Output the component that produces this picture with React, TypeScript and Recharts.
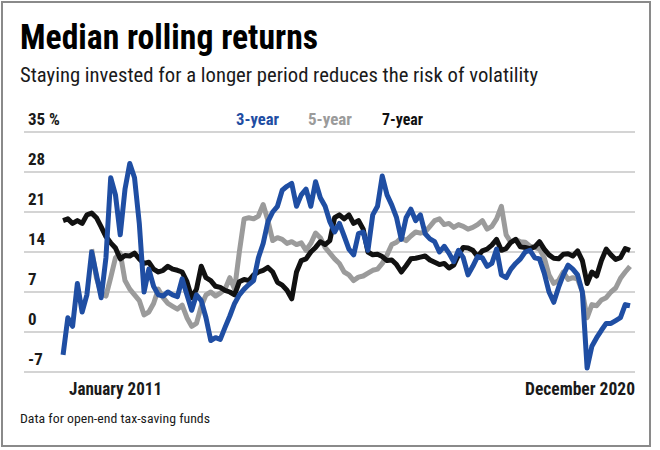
import React from "react";
import { LineChart, Line, XAxis, YAxis, CartesianGrid } from "recharts";

// monthly median rolling returns, Jan 2011 .. Dec 2020 (120 months)
const threeYear = [
  -4, 2.5, 1, 8.5, 3.5, 6.5, 14, 10, 6, 13,
  27, 24, 17, 25, 29.5, 27, 19, 7, 11, 8,
  6.5, 6.3, 7, 6.5, 6.2, 9.3, 6.5, 3.8, 6.5, 5.5,
  2.5, -1.5, -1, -1.3, 0.8, 2.8, 5, 6.5, 7.5, 8.3,
  9, 13, 15.5, 19.3, 21, 22, 24.8, 25.5, 26, 22,
  24, 25, 22, 26.3, 23.5, 22, 19.3, 17.5, 19, 16.8,
  14.5, 13.5, 17.2, 17.5, 14.3, 20.5, 22, 27.3, 24, 22.2,
  20, 16.2, 20, 21.5, 19.5, 20.5, 17.2, 16.3, 15.8, 14,
  15, 13.8, 12.3, 14.3, 13, 10, 11.5, 13.2, 13, 11.5,
  12, 14.5, 10, 9.5, 11, 12, 12.8, 14, 14.3, 13,
  12.8, 10.3, 7, 5.2, 7.8, 10, 11.7, 11, 10, 7,
  -6.3, -2.5, -1, 0.3, 1.5, 1.5, 2, 2.5, 4.8, 4.6,
];

const fiveYear = [
  null, null, null, null, null, null, 14.5, 9.5, 6.8, 6.3,
  9.5, 13, 13.8, 9, 7.5, 6.5, 5.5, 3, 3.5, 5,
  7.5, 6, 5, 4.5, 4, 4.7, 2.5, 1, 1.5, 4.5,
  6.5, 7, 6.3, 6.8, 7.5, 9.5, 7.5, 14, 19.8, 20,
  19.8, 20.3, 22.3, 19.5, 16, 16.5, 16.2, 15.5, 15.8, 15.3,
  15.6, 14.3, 15.5, 17.3, 16.5, 14.8, 13.8, 12.8, 12, 10.5,
  10, 9, 9.6, 9.8, 10.3, 10.8, 11, 12, 13.5, 15.3,
  15.7, 16.5, 16, 16.8, 17.5, 17.3, 17.5, 18.5, 19.5, 19.8,
  18.8, 19, 18.3, 18.8, 18.5, 18, 18.3, 18.8, 19.5, 18,
  18.5, 19.8, 22, 17, 15.7, 16.2, 15.8, 15.7, 15, 14.8,
  14.5, 13, 10, 8.5, 9, 10.5, 9.2, 9.5, 9.3, 7,
  2.5, 4.8, 4.6, 5.6, 6, 7, 7.7, 9.4, 10.5, 11.5,
];

const sevenYear = [
  19.5, 19.8, 19, 19.5, 19, 20.5, 20.8, 20, 18.4, 16.7,
  15.6, 14.7, 12.8, 13.4, 13.3, 13.8, 12.8, 12, 12.2, 11,
  10.5, 10.8, 11.5, 11, 10.8, 10.5, 8.8, 6, 7.5, 11.5,
  9.5, 9, 8, 7.8, 7.3, 7, 6.5, 8.8, 9.2, 9,
  10, 10.5, 10.8, 11.3, 10.5, 8.7, 8.2, 7.3, 5.8, 10.5,
  12.5, 12.8, 14, 14.8, 15.8, 15.3, 16, 20, 20.5, 19.8,
  20.5, 19, 19.5, 18, 14, 13.5, 13.6, 13.2, 12.5, 12.6,
  11.8, 10.5, 11.6, 12.8, 12.9, 13.1, 13.3, 12.6, 12.2, 11.8,
  12, 11.2, 11.7, 13.5, 14.8, 14.7, 14.3, 13.2, 14.2, 14.5,
  15.2, 16.2, 14.3, 14.6, 15.7, 16.2, 14.9, 14.8, 14.6, 14.9,
  15.8, 14.5, 13.5, 12.9, 12.8, 13.6, 13.7, 13.3, 14.2, 12.5,
  8.5, 10.5, 9.8, 12.5, 14.5, 13.5, 12.7, 13, 14.6, 14.3,
];

const yTicks = [-7, 0, 7, 14, 21, 28, 35];
const xTicks = [0, 119];
const xTickLabels = ["January 2011", "December 2020"];

const series = [
  { key: "fiveYear", name: "5-year", color: "#9b9b9b", values: fiveYear },
  { key: "sevenYear", name: "7-year", color: "#111111", values: sevenYear },
  { key: "threeYear", name: "3-year", color: "#1f4ea3", values: threeYear },
];
const legendOrder = ["threeYear", "fiveYear", "sevenYear"];

const data = threeYear.map((_, i) => ({
  t: i,
  threeYear: threeYear[i],
  fiveYear: fiveYear[i],
  sevenYear: sevenYear[i],
}));

const FONT = "'Liberation Sans Narrow', 'Arial Narrow', 'Roboto Condensed', 'DejaVu Sans Condensed', sans-serif";
const PLOT_LEFT = 24;

const YTick = ({ y, payload }: any) => (
  <text x={PLOT_LEFT + 4} y={y - 7} fontFamily={FONT} fontSize={17} fontWeight={700} fill="#1a1a1a">
    {payload.value === 35 ? "35 %" : payload.value}
  </text>
);

const XTick = ({ x, payload }: any) => {
  const i = xTicks.indexOf(payload.value);
  const first = i === 0;
  return (
    <text
      x={first ? x + 6 : x + 5}
      y={395}
      textAnchor={first ? "start" : "end"}
      fontFamily={FONT}
      fontSize={18}
      fontWeight={700}
      fill="#1a1a1a"
      textLength={first ? 93 : 110}
      lengthAdjust="spacingAndGlyphs"
    >
      {xTickLabels[i]}
    </text>
  );
};

const legendX = [236, 308, 382];
const legendW = [43, 44, 41];

export default function App() {
  return (
    <div style={{ position: "absolute", left: 0, top: 0, width: 660, height: 450, background: "#fff" }}>
      <div
        style={{
          position: "absolute",
          left: 1,
          top: 1,
          width: 650,
          height: 446,
          border: "2px solid #8a8a8a",
          boxSizing: "border-box",
        }}
      />
      <svg width={660} height={450} style={{ position: "absolute", left: 0, top: 0 }}>
        <text x={20} y={49} fontFamily={FONT} fontSize={35} fontWeight={700} fill="#000" textLength={298} lengthAdjust="spacingAndGlyphs">
          Median rolling returns
        </text>
        <text x={20} y={82} fontFamily={FONT} fontSize={20} fill="#1a1a1a" textLength={518} lengthAdjust="spacingAndGlyphs">
          Staying invested for a longer period reduces the risk of volatility
        </text>
        {legendOrder.map((k, i) => {
          const s = series.find((d) => d.key === k)!;
          return (
            <text key={k} x={legendX[i]} y={125} fontFamily={FONT} fontSize={17} fontWeight={700} fill={s.color} textLength={legendW[i]} lengthAdjust="spacingAndGlyphs">
              {s.name}
            </text>
          );
        })}
        <text x={20} y={423} fontFamily={FONT} fontSize={13} fill="#1a1a1a" textLength={190} lengthAdjust="spacingAndGlyphs">
          Data for open-end tax-saving funds
        </text>
      </svg>
      <div style={{ position: "absolute", left: 0, top: 0 }}>
        <LineChart width={660} height={450} data={data} margin={{ top: 132, right: 25, bottom: 48, left: PLOT_LEFT }}>
          <CartesianGrid vertical={false} stroke="#c6c6c6" strokeWidth={1.5} />
          <XAxis
            dataKey="t"
            type="number"
            domain={[-8.2, 120.05]}
            ticks={xTicks}
            height={30}
            axisLine={false}
            tickLine={false}
            tick={(p: any) => <XTick {...p} />}
          />
          <YAxis
            type="number"
            domain={[-7, 35]}
            ticks={yTicks}
            mirror
            axisLine={false}
            tickLine={false}
            tick={(p: any) => <YTick {...p} />}
          />
          {series.map((s) => (
            <Line
              key={s.key}
              type="linear"
              dataKey={s.key}
              name={s.name}
              stroke={s.color}
              strokeWidth={5}
              strokeLinejoin="round"
              dot={false}
              activeDot={false}
              isAnimationActive={false}
            />
          ))}
        </LineChart>
      </div>
    </div>
  );
}
